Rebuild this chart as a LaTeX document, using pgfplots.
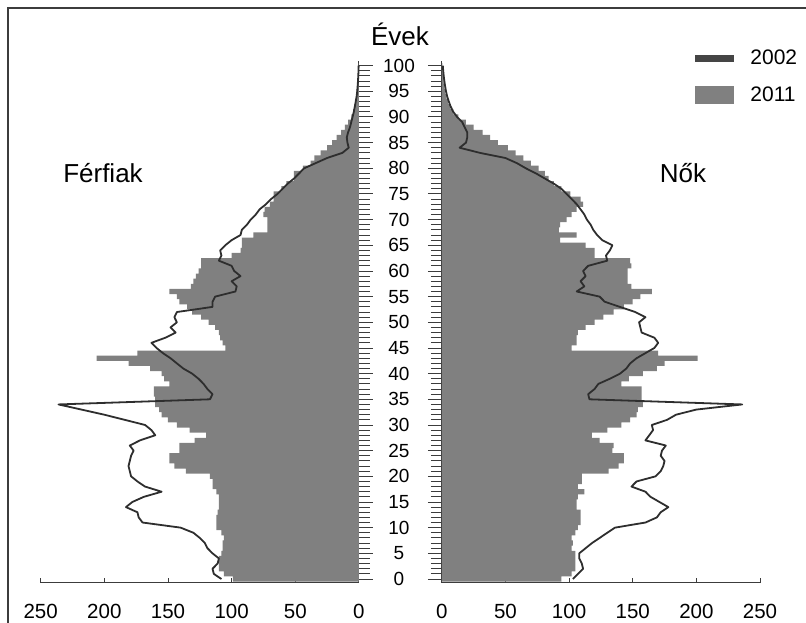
\documentclass[border=0pt]{standalone}
\usepackage{fontspec}
\setmainfont{Liberation Sans}
\usepackage{pgfplots}
\usepackage{pgfplotstable}
\pgfplotsset{compat=1.18}
\definecolor{barcol}{HTML}{808080}
\definecolor{linecol}{HTML}{2E2E2E}
\definecolor{axcol}{HTML}{3C3C3C}
\definecolor{legline}{HTML}{454545}

% 2011 census (bars): age, males (m), females (f), thousands
\pgfplotstableread{
age m f
0 99 94
1 106 102
2 110 105
3 110 105
4 110 105
5 108 105
6 107 102
7 107 103
8 106 102
9 108 105
10 112 107
11 112 109
12 112 109
13 111 109
14 110 106
15 110 106
16 110 107
17 112 112
18 115 107
19 115 110
20 117 110
21 136 131
22 145 139
23 149 143
24 149 143
25 141 134
26 141 135
27 129 124
28 120 118
29 133 130
30 143 141
31 150 148
32 155 153
33 157 154
34 160 158
35 160 157
36 161 157
37 161 157
38 149 141
39 153 147
40 155 158
41 164 169
42 181 175
43 206 201
44 174 170
45 105 102
46 107 106
47 109 106
48 110 107
49 113 113
50 118 120
51 124 127
52 131 135
53 135 143
54 141 150
55 143 156
56 149 165
57 132 149
58 130 146
59 128 146
60 126 146
61 124 149
62 124 148
63 100 120
64 93 120
65 92 113
66 92 93
67 83 106
68 72 92
69 72 93
70 72 98
71 75 102
72 74 106
73 70 111
74 67 109
75 67 101
76 61 94
77 57 88
78 51 84
79 51 81
80 44 76
81 38 70
82 35 64
83 30 58
84 25 52
85 21 44
86 17.5 38
87 14 32
88 11 25
89 8.4 19
90 6 13
91 4.5 9
92 3.5 6.5
93 2.8 4.8
94 2.2 3.5
95 1.7 2.6
96 1.3 1.9
97 1 1.4
98 0.7 1
99 0.5 0.7
100 0.3 0.5
}\censusB

% 2002 census (line): age, males (m), females (f)
\pgfplotstableread{
age m f
0 108 103
1 114 107
2 115 111
3 111 110
4 110 108
5 115 108
6 119 113
7 121 118
8 125 124
9 130 130
10 140 136
11 170 160
12 173 169
13 174 172
14 183 178
15 178 171
16 169 164
17 155 160
18 168 149
19 174 153
20 179 168
21 180 172
22 181 174
23 180 175
24 179 172
25 177 173
26 180 176
27 172 160
28 160 163
29 163 166
30 168 165
31 184 177
32 200 184
33 218 200
34 236 236
35 117 116
36 115 115
37 119 120
38 122 123
39 126 132
40 131 140
41 138 145
42 143 148
43 148 153
44 154 160
45 159 167
46 163 170
47 152 167
48 144 157
49 148 156
50 143 155
51 145 160
52 143 152
53 115 140
54 115 128
55 113 124
56 97 106
57 96 112
58 100 109
59 93 113
60 98 111
61 100 115
62 110 130
63 108 129
64 109 132
65 105 134
66 100 126
67 93 122
68 92 119
69 88 117
70 85 114
71 81 112
72 78 109
73 73 106
74 69 102
75 64 98
76 60 94
77 56 88
78 51 81
79 47 74
80 43 66
81 34 59
82 25 50
83 13 30
84 8 14
85 9 19
86 9.5 20
87 8.5 20
88 7 18
89 6 16
90 5 12
91 4 9
92 3.2 7
93 2.5 5.5
94 1.8 4.2
95 1.3 3.3
96 1 2.6
97 0.7 2
98 0.5 1.5
99 0.3 1.1
100 0.2 0.8
}\censusA

\pgfplotsset{
  pyr/.style={
    scale only axis, width=318.2pt, height=521.5pt,
    anchor=south west,
    xmin=0, xmax=250, ymin=-0.78, ymax=100.8,
    axis x line*=bottom,
    axis line style={axcol, line width=1pt},
    tick align=outside,
    major tick length=14pt, minor tick length=11pt,
    every tick/.style={axcol, line width=0.9pt},
    xtick=\empty,
    extra x ticks={0,50,100,150,200,250},
    extra x tick style={tick align=inside, major tick length=5pt,
      xticklabel style={anchor=base, yshift=-36pt}},
    ytick={0,5,...,100},
    minor ytick={0,1,...,100},
    /pgf/number format/assume math mode=true,
    tick label style={font=\fontsize{20.5}{20.5}\selectfont},
    clip=false,
  }
}

\begin{document}
\begin{tikzpicture}[x=1pt,y=1pt]
\path[use as bounding box] (0,0) rectangle (806,623);
\draw[axcol, line width=1.5pt] (8,-5) -- (8,615) -- (815,615);

\begin{axis}[pyr, at={(40.7pt,40pt)}, x dir=reverse, axis y line*=right,
  yticklabels={}]
  \addplot[xbar, bar width=1, bar shift=0pt, fill=barcol, draw=none] table[x=m, y=age] {\censusB};
  \addplot[linecol, line width=1.8pt, line join=round, no marks] table[x=m, y=age] {\censusA};
\end{axis}

\begin{axis}[pyr, at={(441.8pt,40pt)}, axis y line*=left,
  yticklabel style={font=\fontsize{19}{19}\selectfont, anchor=center, xshift=-28.8pt},
  legend style={at={(0.7957,1.0221)}, anchor=north west, draw=none, fill=none,
    inner sep=0pt, outer sep=0pt, nodes={inner sep=0pt, outer sep=0pt},
    row sep=20pt, column sep=17pt, font=\fontsize{21}{21}\selectfont},
  legend cell align=left]
  \addplot[xbar, bar width=1, bar shift=0pt, fill=barcol, draw=none, forget plot] table[x=f, y=age] {\censusB};
  \addplot[linecol, line width=1.8pt, line join=round, no marks, forget plot] table[x=f, y=age] {\censusA};
  \addlegendimage{legend image code/.code={\fill[legline] (0pt,-3.3pt) rectangle (38pt,3.3pt);}}
  \addlegendentry{2002}
  \addlegendimage{legend image code/.code={\fill[barcol] (0pt,-8.3pt) rectangle (38pt,8.3pt);}}
  \addlegendentry{2011}
\end{axis}

\node[anchor=base, font=\fontsize{26}{26}\selectfont] at (400,577) {Évek};
\node[anchor=base, font=\fontsize{26}{26}\selectfont] at (103,440) {Férfiak};
\node[anchor=base, font=\fontsize{26}{26}\selectfont] at (683,440.3) {Nők};
\end{tikzpicture}
\end{document}
